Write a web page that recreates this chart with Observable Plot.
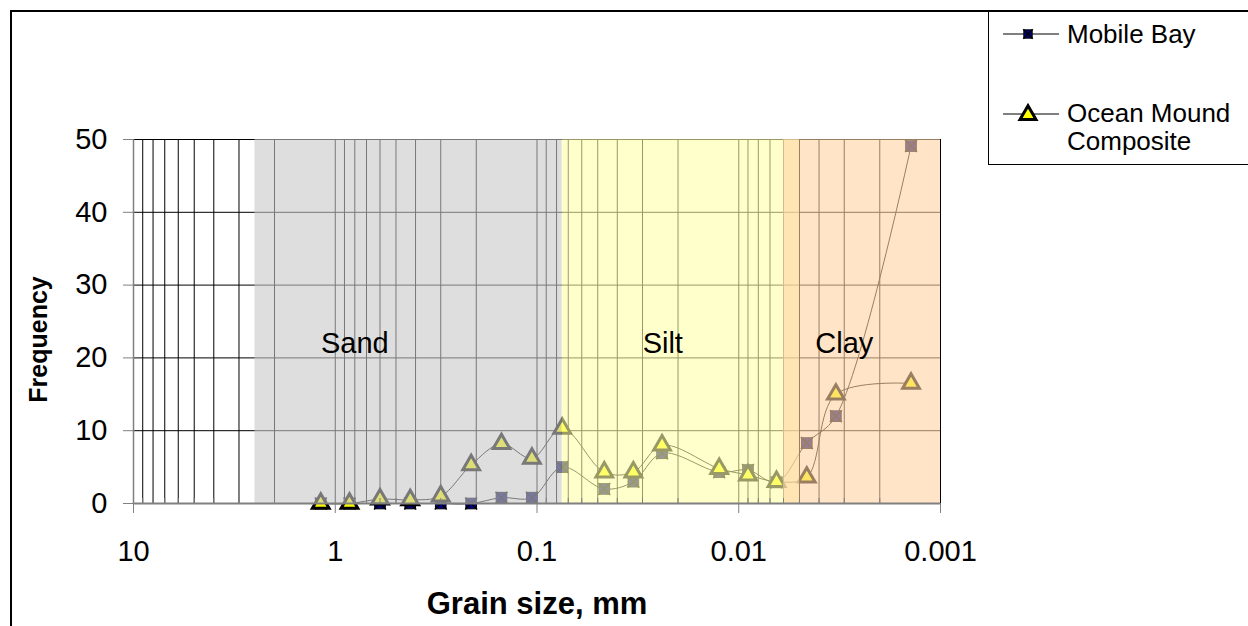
<!DOCTYPE html>
<html><head><meta charset="utf-8">
<script src="https://cdn.jsdelivr.net/npm/d3@7"></script>
<script src="https://cdn.jsdelivr.net/npm/@observablehq/plot@0.6"></script>
<style>
html,body{margin:0;padding:0;background:#fff;overflow:hidden;}
#wrap{position:relative;width:1248px;height:626px;overflow:hidden;font-family:"Liberation Sans",Arial,sans-serif;}
#frame{position:absolute;left:10px;top:10px;width:1400px;height:800px;border-left:2px solid #000;border-top:2px solid #000;}
#chart{position:absolute;left:0;top:0;}
#legend{position:absolute;left:988px;top:10px;width:400px;height:152px;border:1px solid #000;border-top:2px solid #000;background:#fff;}
#legend .lab{position:absolute;left:78px;font-size:26px;line-height:26px;white-space:nowrap;color:#000;}
</style></head>
<body><div id="wrap"><div id="frame"></div><div id="chart"></div><div id="legend"></div></div>
<script>
// ---- data ----
const grainSize  = [1.18, 0.85, 0.6, 0.425, 0.3, 0.212, 0.15, 0.106, 0.075, 0.0464, 0.0333, 0.024, 0.0125, 0.009, 0.0065, 0.0046, 0.0033, 0.0014];
const mobileBay  = [0, 0, 0, 0, 0, 0, 0.8, 0.8, 5.0, 2.0, 3.0, 6.9, 4.3, 4.6, 2.9, 8.3, 12.0, 49.1];
const oceanMound = [0, 0, 0.6, 0.5, 1.0, 5.3, 8.2, 6.2, 10.3, 4.3, 4.3, 8.0, 4.8, 3.9, 3.0, 3.6, 15.0, 16.5];
const seriesNames = ["Mobile Bay", "Ocean Mound Composite"];
const bandNames = ["Sand", "Silt", "Clay"];
const bandStart = [2.5, 0.075, 0.006];
const bandEnd   = [0.075, 0.005, 0.001];
const xTicks = [10, 1, 0.1, 0.01, 0.001];
const xTickLabels = ["10", "1", "0.1", "0.01", "0.001"];
const yTicks = [0, 10, 20, 30, 40, 50];

// ---- styles / annotation anchors ----
const bandFill = ["#c8c8c8", "#ffffaa", "#ffd2a3"];
const bandLabelAt = [[0.8, 22], [0.0238, 22], [0.003, 22]];

const table = grainSize.map((g, i) => ({size: g, mobile: mobileBay[i], ocean: oceanMound[i]}));
const bands = bandNames.map((n, i) => ({name: n, start: bandStart[i], end: bandEnd[i], fill: bandFill[i], lx: bandLabelAt[i][0], ly: bandLabelAt[i][1]}));
const minorTicks = [];
for (let k = -3; k <= 0; k++) for (let m = 2; m <= 9; m++) minorTicks.push(+(m * Math.pow(10, k)).toPrecision(3));
const gridValues = xTicks.concat(minorTicks);
const labelMap = new Map(xTicks.map((t, i) => [t, xTickLabels[i]]));

const chart = Plot.plot({
  width: 1248, height: 626,
  marginLeft: 133, marginRight: 308, marginTop: 139, marginBottom: 123,
  style: {fontFamily: '"Liberation Sans", Arial, sans-serif', fontSize: "29px", background: "transparent", color: "#000", overflow: "visible"},
  x: {type: "log", domain: [10, 0.001]},
  y: {domain: [0, 50]},
  color: {type: "identity"},
  marks: [
    Plot.gridX(gridValues, {stroke: "#000", strokeOpacity: 1, strokeWidth: 1}),
    Plot.gridY(yTicks.slice(1), {stroke: "#000", strokeOpacity: 1, strokeWidth: 1}),
    Plot.line(table, {x: "size", y: "mobile", curve: "catmull-rom", stroke: "#000", strokeWidth: 1}),
    Plot.dot(table, {x: "size", y: "mobile", symbol: "square", r: 6, fill: "#000080", stroke: "#000", strokeWidth: 1}),
    Plot.dot(table, {x: "size", y: "mobile", symbol: "times", r: 5.5, stroke: "#000", strokeWidth: 1.5}),
    Plot.line(table, {x: "size", y: "ocean", curve: "catmull-rom", stroke: "#000", strokeWidth: 1}),
    Plot.dot(table, {x: "size", y: "ocean", symbol: "triangle", r: 6.2, fill: "#ffff00", stroke: "#000", strokeWidth: 3}),
    Plot.rect(bands, {x1: "start", x2: "end", fill: "fill", fillOpacity: 0.6}),
    Plot.text(bands, {x: "lx", y: "ly", text: "name", fontSize: 29, fill: "#000"}),
    Plot.ruleY([0], {stroke: "#808080", strokeWidth: 2}),
    Plot.ruleX([10], {stroke: "#808080", strokeWidth: 1.5}),
    Plot.axisX(minorTicks, {tickSize: -5, tickFormat: () => "", stroke: "#808080", label: null}),
    Plot.axisX(xTicks, {tickSize: 10, tickPadding: 27, tickFormat: d => labelMap.get(d), stroke: "#808080", fill: "#000", label: null, fontSize: 29}),
    Plot.axisY(yTicks, {tickSize: 10, tickPadding: 16, stroke: "#808080", fill: "#000", label: null, fontSize: 29}),
    Plot.text(["Grain size, mm"], {text: d => d, frameAnchor: "bottom", dy: 110, fontWeight: "bold", fontSize: 31, fill: "#000"}),
    Plot.text(["Frequency"], {text: d => d, frameAnchor: "left", textAnchor: "middle", dx: -95, dy: 18, rotate: -90, fontWeight: "bold", fontSize: 25, fill: "#000"})
  ]
});
document.getElementById("chart").appendChild(chart);

// ---- legend ----
const leg = d3.select("#legend");
const svg = leg.append("svg").attr("width", 260).attr("height", 152).style("position", "absolute").style("left", 0).style("top", 0);
// Mobile Bay
svg.append("line").attr("x1", 14).attr("x2", 70).attr("y1", 22).attr("y2", 22).attr("stroke", "#000").attr("stroke-width", 1);
svg.append("path").attr("d", d3.symbol(d3.symbolSquare, 70)()).attr("transform", "translate(39,22)").attr("fill", "#000080").attr("stroke", "#000");
svg.append("path").attr("d", d3.symbol(d3.symbolTimes, 60)()).attr("transform", "translate(39,22)").attr("fill", "none").attr("stroke", "#000").attr("stroke-width", 1.5);
// Ocean Mound
svg.append("line").attr("x1", 14).attr("x2", 70).attr("y1", 102).attr("y2", 102).attr("stroke", "#000").attr("stroke-width", 1);
svg.append("path").attr("d", d3.symbol(d3.symbolTriangle, 110)()).attr("transform", "translate(39,103)").attr("fill", "#ffff00").attr("stroke", "#000").attr("stroke-width", 3);
leg.append("div").attr("class", "lab").style("top", "9px").text(seriesNames[0]);
leg.append("div").attr("class", "lab").style("top", "88px").text("Ocean Mound");
leg.append("div").attr("class", "lab").style("top", "116px").text("Composite");
</script>
</body></html>
